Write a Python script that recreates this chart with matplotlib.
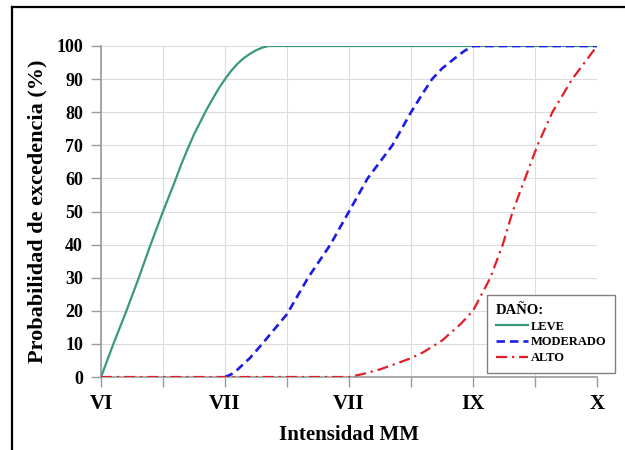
import matplotlib
matplotlib.use("Agg")
import matplotlib.pyplot as plt
from matplotlib.lines import Line2D

# Data (intensity as numeric 6..10)
leve_x = [6.0, 6.1, 6.2, 6.3, 6.4, 6.5, 6.6, 6.65, 6.7, 6.75, 6.8, 6.85, 6.9, 6.95,
          7.0, 7.05, 7.1, 7.15, 7.2, 7.25, 7.3, 7.35, 10.0]
leve_y = [0, 10, 19.5, 29.5, 40, 50, 59.5, 64.5, 69, 73.3, 77, 80.7, 84, 87.2,
          90, 92.5, 94.6, 96.3, 97.6, 98.7, 99.5, 100, 100]

mod_x = [7.0, 7.05, 7.1, 7.2, 7.3, 7.4, 7.5, 7.67, 7.85, 8.0, 8.15, 8.35, 8.5, 8.6,
         8.67, 8.75, 8.85, 8.93, 9.0, 10.0]
mod_y = [0, 0.8, 2.2, 5.7, 10, 14.5, 19, 30, 40, 50, 60, 70, 80, 86,
         90, 93.2, 96.2, 98.5, 100, 100]

alto_x = [6.0, 8.0, 8.1, 8.25, 8.4, 8.5, 8.6, 8.75, 8.9, 9.0, 9.07, 9.14, 9.24, 9.32,
          9.42, 9.52, 9.64, 9.8, 9.9, 10.0]
alto_y = [0, 0, 0.8, 2.3, 4.3, 5.7, 7.5, 11, 16, 20, 25, 30, 40, 50,
          60, 70, 80, 90, 95, 100]

x_ticks = [6, 7, 8, 9, 10]
x_labels = ["VI", "VII", "VII", "IX", "X"]
y_ticks = list(range(0, 101, 10))

serif = ["Liberation Serif", "DejaVu Serif"]
plt.rcParams["font.family"] = serif
plt.rcParams["font.weight"] = "bold"

fig = plt.figure(figsize=(6.25, 4.5), dpi=100)
ax = fig.add_axes([101/625, 1-377/450, (597-101)/625, (377-46)/450])

green = "#3a9a78"
blue = "#1c1ce6"
red = "#e41e28"

ax.plot(leve_x, leve_y, color=green, lw=1.6, solid_capstyle="butt", label="LEVE", zorder=3)
ax.plot(mod_x, mod_y, color=blue, lw=1.9, dashes=(3.2, 1.9), label="MODERADO", zorder=4)
ax.plot(alto_x, alto_y, color=red, lw=1.6, dashes=(5, 2.2, 1, 2.2), label="ALTO", zorder=5)

ax.set_xlim(6, 10)
ax.set_ylim(0, 100)
ax.set_xticks(x_ticks)
ax.set_xticklabels(x_labels, fontsize=15, fontweight="bold")
ax.set_xticks([6.5, 7.5, 8.5, 9.5], minor=True)
ax.set_yticks(y_ticks)
ax.set_yticklabels([str(v) for v in y_ticks], fontsize=13, fontweight="bold")

grid_c = "#dcdcdc"
ax.grid(True, which="both", color=grid_c, lw=0.8)
ax.set_axisbelow(True)
for s in ["top", "right"]:
    ax.spines[s].set_visible(False)
for s in ["left", "bottom"]:
    ax.spines[s].set_color("#9a9a9a")
    ax.spines[s].set_linewidth(1.2)
ax.tick_params(axis="both", which="both", color="#9a9a9a", direction="out", width=1.0)
ax.tick_params(axis="x", which="major", length=7, pad=5)
ax.tick_params(axis="x", which="minor", length=7)
ax.tick_params(axis="y", which="major", length=7, pad=6)

ax.set_xlabel("Intensidad MM", fontsize=15, fontweight="bold", labelpad=8)
ax.set_ylabel("Probabilidad de excedencia (%)", fontsize=16, fontweight="bold", labelpad=6)

handles = [Line2D([], [], color=green, lw=1.6),
           Line2D([], [], color=blue, lw=1.9, dashes=(3.2, 1.9)),
           Line2D([], [], color=red, lw=1.6, dashes=(5, 2.2, 1, 2.2))]
leg = ax.legend(handles, ["LEVE", "MODERADO", "ALTO"], title="DAÑO:",
                loc="upper right", bbox_to_anchor=(615/625, 1-295/450),
                bbox_transform=fig.transFigure, borderaxespad=0,
                prop={"family": serif, "weight": "bold", "size": 9},
                title_fontproperties={"family": serif, "weight": "bold", "size": 10.5},
                fancybox=False, framealpha=1, edgecolor="#808080",
                handlelength=2.6, handletextpad=0.2, labelspacing=0.3,
                borderpad=0.7)
leg._legend_box.align = "left"
leg.get_frame().set_linewidth(1.0)
leg.set_zorder(10)

# outer frame lines
fig.add_artist(Line2D([12/625, 1.0], [1-7/450, 1-7/450], color="black", lw=1.6, transform=fig.transFigure))
fig.add_artist(Line2D([12/625, 12/625], [0, 1-7/450], color="black", lw=1.6, transform=fig.transFigure))

fig.savefig("out.png", dpi=100)
